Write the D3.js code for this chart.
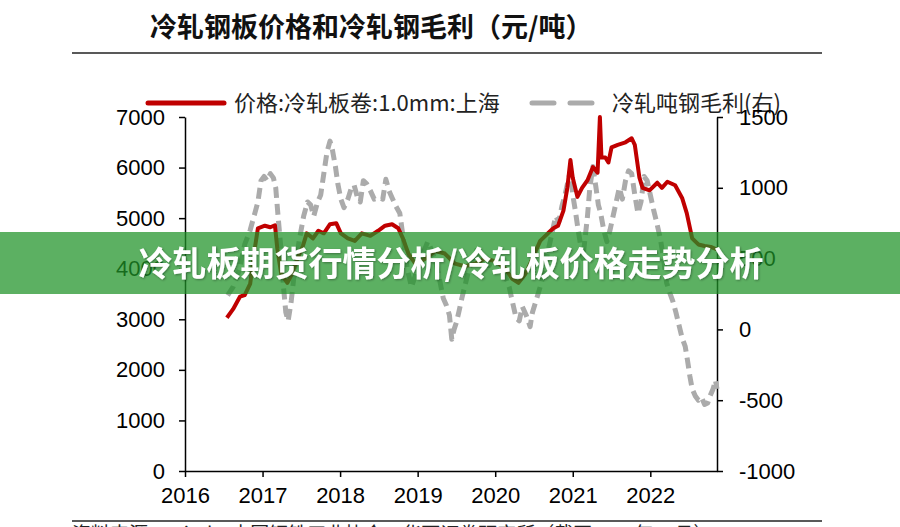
<!DOCTYPE html>
<html>
<head>
<meta charset="utf-8">
<script src="https://cdn.jsdelivr.net/npm/d3@7"></script>
<style>
  html, body { margin: 0; padding: 0; background: #fff; }
  svg { display: block; }
  .num { font-family: "Liberation Sans", Arial, sans-serif; }
  .cjk { font-family: "Noto Sans CJK SC", "Noto Sans", sans-serif; }
</style>
</head>
<body>
<svg id="chart" width="900" height="527"></svg>
<script>
// ── data (decimal year, value) ───────────────────────────────
// 价格:冷轧板卷:1.0mm:上海 (left axis, 元/吨)
const priceSeries = [
  [2016.54,3030],[2016.62,3200],[2016.71,3450],[2016.77,3480],[2016.84,3700],[2016.90,4400],
  [2016.94,4800],[2017.03,4850],[2017.10,4820],[2017.16,4860],[2017.19,4400],[2017.24,3900],
  [2017.32,3720],[2017.38,3900],[2017.45,4200],[2017.52,4450],[2017.57,4700],[2017.65,4600],
  [2017.72,4750],[2017.79,4700],[2017.87,4880],[2017.95,4900],[2018.01,4700],[2018.10,4600],
  [2018.19,4550],[2018.28,4700],[2018.39,4650],[2018.49,4750],[2018.58,4850],[2018.67,4880],
  [2018.75,4800],[2018.81,4600],[2018.88,4300],[2018.97,4100],[2019.10,4200],[2019.23,4350],
  [2019.35,4300],[2019.48,4100],[2019.61,4050],[2019.74,4100],[2019.87,4200],[2020.00,4150],
  [2020.13,4000],[2020.22,3800],[2020.30,3720],[2020.39,3900],[2020.48,4200],[2020.58,4550],
  [2020.68,4700],[2020.75,4800],[2020.81,4850],[2020.88,5150],[2020.93,5600],[2020.97,6150],
  [2021.00,5800],[2021.06,5420],[2021.12,5600],[2021.19,5750],[2021.26,6010],[2021.32,5900],
  [2021.35,7000],[2021.37,6200],[2021.42,6200],[2021.46,6100],[2021.50,6400],[2021.58,6450],
  [2021.68,6500],[2021.76,6580],[2021.80,6450],[2021.86,5800],[2021.90,5600],[2021.99,5550],
  [2022.09,5700],[2022.15,5600],[2022.22,5720],[2022.32,5650],[2022.41,5400],[2022.47,5100],
  [2022.54,4600],[2022.62,4480],[2022.70,4450],[2022.78,4430],[2022.86,4380]
];

// 冷轧吨钢毛利(右) (right axis, 元/吨)
const marginSeries = [
  [2016.55,240],[2016.62,300],[2016.70,420],[2016.77,600],[2016.84,700],[2016.90,820],
  [2016.94,900],[2016.98,1050],[2017.02,1080],[2017.06,1050],[2017.10,1100],[2017.14,1070],
  [2017.17,1000],[2017.20,800],[2017.24,550],[2017.27,300],[2017.30,120],[2017.33,60],
  [2017.37,200],[2017.42,450],[2017.48,650],[2017.53,800],[2017.58,900],[2017.62,880],
  [2017.66,800],[2017.71,900],[2017.75,950],[2017.79,1100],[2017.83,1250],[2017.87,1330],
  [2017.90,1270],[2017.94,1150],[2017.97,1030],[2018.01,920],[2018.05,860],[2018.10,920],
  [2018.14,990],[2018.18,1020],[2018.22,940],[2018.26,900],[2018.30,1050],[2018.34,1030],
  [2018.39,980],[2018.44,920],[2018.50,930],[2018.55,920],[2018.59,1060],[2018.63,980],
  [2018.67,930],[2018.72,870],[2018.77,820],[2018.82,620],[2018.87,420],[2018.92,300],
  [2018.97,380],[2019.02,450],[2019.08,550],[2019.13,620],[2019.18,560],[2019.23,480],
  [2019.28,360],[2019.33,220],[2019.37,170],[2019.41,100],[2019.44,-70],[2019.47,0],
  [2019.50,50],[2019.53,120],[2019.57,220],[2019.61,310],[2019.66,420],[2019.71,500],
  [2019.76,560],[2019.81,520],[2019.87,480],[2019.92,450],[2019.97,500],[2020.03,520],
  [2020.08,450],[2020.13,380],[2020.18,300],[2020.22,200],[2020.27,80],[2020.31,60],
  [2020.35,160],[2020.40,100],[2020.45,20],[2020.48,120],[2020.53,210],[2020.58,300],
  [2020.62,380],[2020.66,500],[2020.70,600],[2020.74,700],[2020.78,800],[2020.82,760],
  [2020.86,870],[2020.90,950],[2020.94,1050],[2020.97,1120],[2021.00,950],[2021.03,850],
  [2021.07,700],[2021.10,600],[2021.13,500],[2021.16,650],[2021.19,800],[2021.22,1000],
  [2021.26,1150],[2021.30,1000],[2021.33,880],[2021.36,820],[2021.40,700],[2021.44,620],
  [2021.48,700],[2021.52,800],[2021.56,900],[2021.60,1000],[2021.64,920],[2021.68,1050],
  [2021.72,1120],[2021.76,1100],[2021.80,950],[2021.84,820],[2021.88,900],[2021.92,1080],
  [2021.96,1050],[2022.00,950],[2022.04,850],[2022.08,760],[2022.13,640],[2022.17,500],
  [2022.21,330],[2022.25,260],[2022.29,200],[2022.33,120],[2022.37,30],[2022.41,-60],
  [2022.45,-120],[2022.48,-220],[2022.51,-330],[2022.54,-420],[2022.58,-470],[2022.62,-500],
  [2022.66,-480],[2022.70,-530],[2022.74,-520],[2022.77,-470],[2022.81,-420],[2022.84,-360],
  [2022.86,-420]
];

const yearTicks   = [2016, 2017, 2018, 2019, 2020, 2021, 2022];
const leftTicks   = [0, 1000, 2000, 3000, 4000, 5000, 6000, 7000];
const rightTicks  = [-1000, -500, 0, 500, 1000, 1500];

const titleText   = "冷轧钢板价格和冷轧钢毛利（元/吨）";
const legendNames = ["价格:冷轧板卷:1.0mm:上海", "冷轧吨钢毛利(右)"];
const bannerText  = "冷轧板期货行情分析/冷轧板价格走势分析";
const sourceText  = "资料来源：Wind，中国钢铁工业协会，华西证券研究所（截至2022年11月）";

// ── layout ───────────────────────────────────────────────────
const svg = d3.select("#chart");
const plot = { left: 185, right: 717, top: 117, bottom: 471 };
const RED  = "#c00000";
const GRAY = "#ababab";

const x  = d3.scaleLinear().domain([2016, 2022.86]).range([plot.left, plot.right]);
const yL = d3.scaleLinear().domain([0, 7000]).range([plot.bottom, plot.top]);
const yR = d3.scaleLinear().domain([-1000, 1500]).range([plot.bottom, plot.top]);

// plain integers with an ascii minus, like the source chart
const plain = d => String(d);

// title + rules
svg.append("text")
  .attr("class", "cjk")
  .attr("x", 150).attr("y", 37)
  .attr("font-size", 27).attr("font-weight", "bold")
  .attr("fill", "#111")
  .text(titleText);

svg.append("line")
  .attr("x1", 72).attr("x2", 822).attr("y1", 53).attr("y2", 53)
  .attr("stroke", "#222").attr("stroke-width", 1.5);
svg.append("line")
  .attr("x1", 72).attr("x2", 822).attr("y1", 521).attr("y2", 521)
  .attr("stroke", "#222").attr("stroke-width", 1.5);

svg.append("text")
  .attr("class", "cjk")
  .attr("x", 72).attr("y", 541)
  .attr("font-size", 19).attr("fill", "#222")
  .text(sourceText);

// legend
const lg = svg.append("g");
lg.append("line")
  .attr("x1", 148).attr("x2", 224).attr("y1", 103).attr("y2", 103)
  .attr("stroke", RED).attr("stroke-width", 5).attr("stroke-linecap", "round");
lg.append("text")
  .attr("class", "cjk")
  .attr("x", 234).attr("y", 111)
  .attr("font-size", 22).attr("fill", "#222")
  .text(legendNames[0]);
lg.append("line")
  .attr("x1", 532).attr("x2", 592).attr("y1", 103).attr("y2", 103)
  .attr("stroke", GRAY).attr("stroke-width", 5)
  .attr("stroke-dasharray", "22,16").attr("stroke-linecap", "round");
lg.append("text")
  .attr("class", "cjk")
  .attr("x", 612).attr("y", 111)
  .attr("font-size", 22).attr("fill", "#222")
  .text(legendNames[1]);

// axes
function styleAxis(g) {
  g.selectAll("path, line").attr("stroke", "#000").attr("stroke-width", 1.5);
  g.select(".domain").attr("fill", "none");
  g.selectAll("text")
    .attr("font-family", "'Liberation Sans', Arial, sans-serif")
    .attr("font-size", 22)
    .attr("fill", "#000");
}

svg.append("g")
  .attr("transform", `translate(${plot.left},0)`)
  .call(d3.axisLeft(yL).tickValues(leftTicks).tickFormat(plain)
    .tickSize(6).tickSizeOuter(0).tickPadding(14))
  .call(styleAxis);

svg.append("g")
  .attr("transform", `translate(${plot.right},0)`)
  .call(d3.axisRight(yR).tickValues(rightTicks).tickFormat(plain)
    .tickSize(6).tickSizeOuter(0).tickPadding(16))
  .call(styleAxis);

svg.append("g")
  .attr("transform", `translate(0,${plot.bottom})`)
  .call(d3.axisBottom(x).tickValues(yearTicks).tickFormat(plain)
    .tickSize(6).tickSizeOuter(0).tickPadding(10))
  .call(styleAxis);

// series
const lineR = d3.line().x(d => x(d[0])).y(d => yR(d[1]));
const lineL = d3.line().x(d => x(d[0])).y(d => yL(d[1]));

svg.append("path")
  .datum(marginSeries)
  .attr("d", lineR)
  .attr("fill", "none")
  .attr("stroke", GRAY).attr("stroke-width", 5)
  .attr("stroke-dasharray", "11,6")
  .attr("stroke-linejoin", "round");

svg.append("path")
  .datum(priceSeries)
  .attr("d", lineL)
  .attr("fill", "none")
  .attr("stroke", RED).attr("stroke-width", 4)
  .attr("stroke-linejoin", "round");

// translucent green banner on top
svg.append("rect")
  .attr("x", 0).attr("y", 232).attr("width", 900).attr("height", 62)
  .attr("fill", "rgb(31,147,40)").attr("fill-opacity", 0.73);

const defs = svg.append("defs");
defs.append("filter").attr("id", "shadow")
  .append("feDropShadow")
  .attr("dx", 1).attr("dy", 1).attr("stdDeviation", 1)
  .attr("flood-color", "#000").attr("flood-opacity", 0.35);

svg.append("text")
  .attr("class", "cjk")
  .attr("x", 451).attr("y", 276)
  .attr("text-anchor", "middle")
  .attr("font-size", 34).attr("font-weight", "bold")
  .attr("fill", "#fff")
  .attr("filter", "url(#shadow)")
  .text(bannerText);
</script>
</body>
</html>
